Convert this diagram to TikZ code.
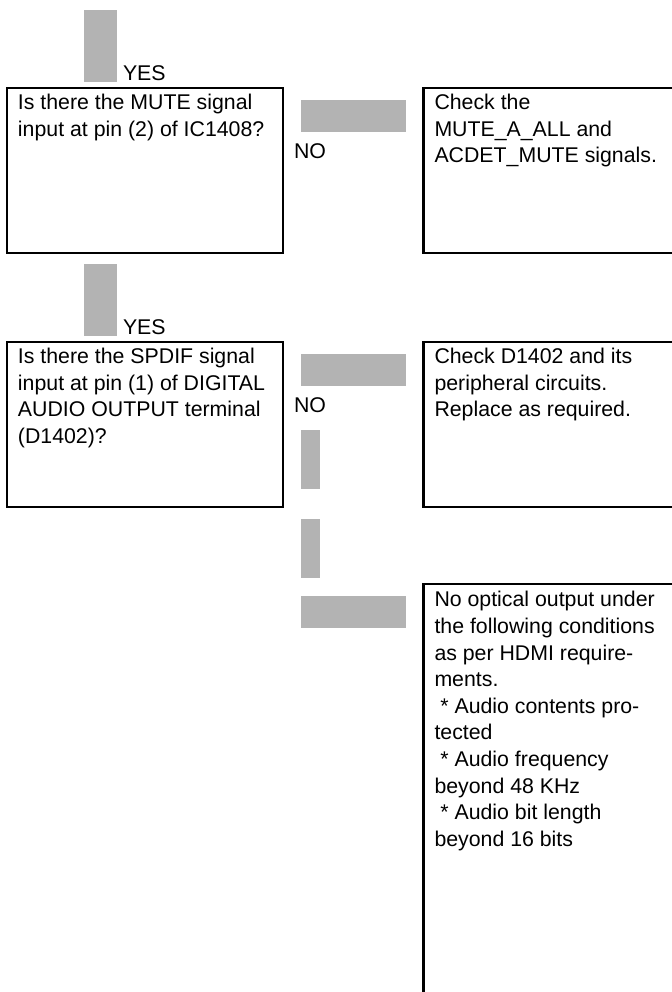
\documentclass[tikz,border=0pt]{standalone}
\usepackage{fontspec}
\setmainfont{Liberation Sans}
\usetikzlibrary{calc}
\definecolor{flowgray}{HTML}{B3B3B3}

\begin{document}
\begin{tikzpicture}[
  x=0.5pt, y=-0.5pt,
  every node/.style={font=\fontsize{10.65pt}{13.3pt}\selectfont, inner sep=0pt, outer sep=0pt},
  stepframe/.style={
    draw=black, line width=1.1pt, anchor=north west,
    minimum width=138pt, minimum height=82.5pt,
  },
  steptext/.style={anchor=north west, align=left},
  vbar/.style={fill=flowgray, anchor=north west, minimum width=16.5pt, minimum height=36pt},
  hbar/.style={fill=flowgray, anchor=north west, minimum width=52.5pt, minimum height=16pt},
  sbar/.style={fill=flowgray, anchor=north west, minimum width=9.5pt, minimum height=29.5pt},
  answer/.style={anchor=base west},
]
  \useasboundingbox (0,0) rectangle (672,992);
  \clip (0,0) rectangle (672,992);

  % Step 1: MUTE signal
  \node[vbar] (v1) at (84,10) {};
  \node[answer] (yes1) at (123,80) {YES};
  \node[stepframe] (q1) at (7,88) {};
  \node[steptext] (q1t) at ($(q1.north west)+(11,6)$)
    {Is there the MUTE signal\\input at pin (2) of IC1408?};
  \node[hbar] (h1) at (301,100) {};
  \node[answer] (no1) at (294,158) {NO};
  \node[stepframe] (c1) at (423.5,88) {};
  \node[steptext] (c1t) at ($(c1.north west)+(11,6)$)
    {Check the\\MUTE\_A\_ALL and\\ACDET\_MUTE signals.};

  % Step 2: SPDIF signal
  \node[vbar] (v2) at (84,264) {};
  \node[answer] (yes2) at (123,334) {YES};
  \node[stepframe] (q2) at (7,342) {};
  \node[steptext] (q2t) at ($(q2.north west)+(11,6)$)
    {Is there the SPDIF signal\\input at pin (1) of DIGITAL\\AUDIO OUTPUT terminal\\(D1402)?};
  \node[hbar] (h2) at (301,354) {};
  \node[answer] (no2) at (294,412) {NO};
  \node[stepframe] (c2) at (423.5,342) {};
  \node[steptext] (c2t) at ($(c2.north west)+(11,6)$)
    {Check D1402 and its\\peripheral circuits.\\Replace as required.};

  % Step 3: no optical output
  \node[sbar] (v3) at (301,430) {};
  \node[sbar] (v4) at (301,519) {};
  \node[hbar] (h3) at (301,596) {};
  \node[stepframe, minimum height=215pt] (c3) at (423.5,584) {};
  \node[steptext] (c3t) at ($(c3.north west)+(11,7.5)$)
    {No optical output under\\the following conditions\\as per HDMI require-\\ments.\\
     \ * Audio contents pro-\\tected\\\ * Audio frequency\\beyond 48 KHz\\
     \ * Audio bit length\\beyond 16 bits};
\end{tikzpicture}
\end{document}
